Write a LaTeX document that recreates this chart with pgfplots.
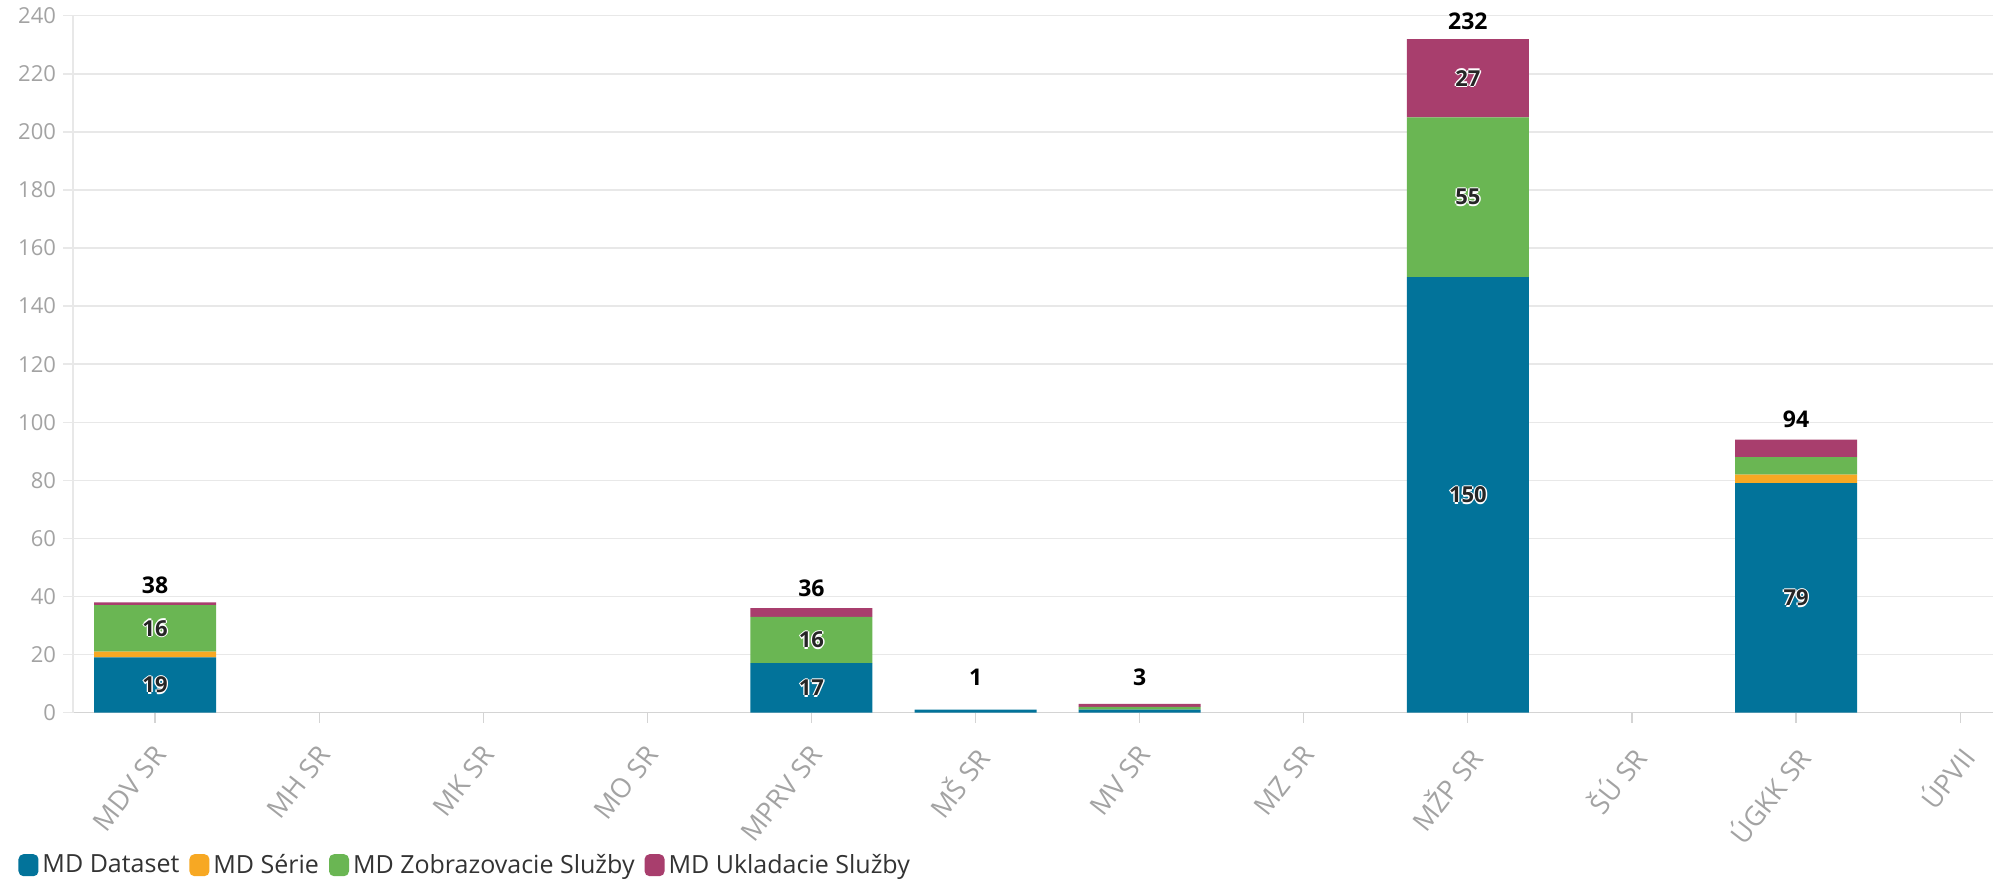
\documentclass[border=0pt]{standalone}
\usepackage{pgfplots}
\pgfplotsset{compat=1.18}
\usepackage{fontspec}
\setmainfont{Open Sans}
\definecolor{cDS}{HTML}{02739A}
\definecolor{cSE}{HTML}{F7A823}
\definecolor{cZO}{HTML}{6AB653}
\definecolor{cUK}{HTML}{A83E6D}
\definecolor{gridc}{HTML}{E8E8E8}
\definecolor{axc}{HTML}{D4D4D4}
\definecolor{tickc}{HTML}{A3A3A3}
\newcommand\halo[3]{{%
\def\h##1##2{\rlap{\kern##1\raisebox{##2}{\textcolor{#1}{#3}}}}%
\h{-0.7pt}{0pt}\h{0.7pt}{0pt}\h{0pt}{0.7pt}\h{0pt}{-0.7pt}%
\textcolor{#2}{#3}}}
\begin{document}
\begin{tikzpicture}
\useasboundingbox (0,0) rectangle (996.5pt,441pt);
\pgfplotsset{common/.style={at={(36.5pt,84.7pt)}, anchor=south west, scale only axis,
  width=960pt, height=348.4pt, xmin=-0.5, xmax=11.2, ymin=0, ymax=240}}
\begin{axis}[common, ybar stacked, bar width=61pt,
  axis x line*=bottom, axis y line*=left,
  x axis line style={axc, line width=0.9pt, -},
  y axis line style={gridc, line width=0.7pt, -},
  ymajorgrids, major grid style={gridc, line width=0.7pt},
  tick align=outside, major tick length=5pt,
  xtick style={draw=axc, line width=0.6pt},
  ytick style={draw=gridc, line width=0.7pt},
  ytick={0,20,...,240},
  xtick={0,...,11},
  xticklabels={MDV SR, MH SR, MK SR, MO SR, MPRV SR, MŠ SR, MV SR, MZ SR, MŽP SR, ŠÚ SR, ÚGKK SR, ÚPVII},
  xticklabel style={rotate=52, anchor=north east, font=\fontsize{13.5}{16}\selectfont, text=tickc, inner sep=2pt, xshift=-7pt, yshift=-3pt},
  yticklabel style={font=\fontsize{11}{13}\selectfont, text=tickc},
  /pgf/number format/assume math mode=true,
  legend columns=4,
  legend style={draw=none, inner sep=0pt, at={(-0.0286,-0.219)}, anchor=west,
    font=\fontsize{12.5}{14}\selectfont, text=black!80,
    /tikz/every even column/.append style={column sep=3pt}},
  legend image code/.code={\fill[#1,draw=none,rounded corners=2.5pt] (0pt,-5.5pt) rectangle (10pt,5.5pt);},
]
\addplot[fill=cDS, draw=none] coordinates {(0,19)(1,0)(2,0)(3,0)(4,17)(5,1)(6,1)(7,0)(8,150)(9,0)(10,79)(11,0)};
\addplot[fill=cSE, draw=none] coordinates {(0,2)(1,0)(2,0)(3,0)(4,0)(5,0)(6,0)(7,0)(8,0)(9,0)(10,3)(11,0)};
\addplot[fill=cZO, draw=none] coordinates {(0,16)(1,0)(2,0)(3,0)(4,16)(5,0)(6,1)(7,0)(8,55)(9,0)(10,6)(11,0)};
\addplot[fill=cUK, draw=none] coordinates {(0,1)(1,0)(2,0)(3,0)(4,3)(5,0)(6,1)(7,0)(8,27)(9,0)(10,6)(11,0)};
\legend{MD Dataset, MD Série, MD Zobrazovacie Služby, MD Ukladacie Služby}
\end{axis}
\begin{axis}[common, hide axis, clip=false]
\addplot[only marks, mark=*, mark size=0pt, mark options={draw=none,fill=none},
  point meta=explicit symbolic,
  nodes near coords={\halo{white}{black!85}{\pgfplotspointmeta}},
  every node near coord/.append style={anchor=center, inner sep=0pt, font=\bfseries\fontsize{11}{13}\selectfont}]
  coordinates {(0,9.5)[19] (0,29)[16] (4,8.5)[17] (4,25)[16] (8,75)[150] (8,177.5)[55] (8,218.5)[27] (10,39.5)[79]};
\addplot[only marks, mark=*, mark size=0pt, mark options={draw=none,fill=none},
  point meta=explicit symbolic,
  nodes near coords={\pgfplotspointmeta},
  every node near coord/.append style={anchor=center, inner sep=0pt, text=black, font=\bfseries\fontsize{11.5}{13}\selectfont}]
  coordinates {(0,44)[38] (4,42.8)[36] (5,12.3)[1] (6,12.3)[3] (8,238.2)[232] (10,101)[94]};
\end{axis}
\end{tikzpicture}
\end{document}
